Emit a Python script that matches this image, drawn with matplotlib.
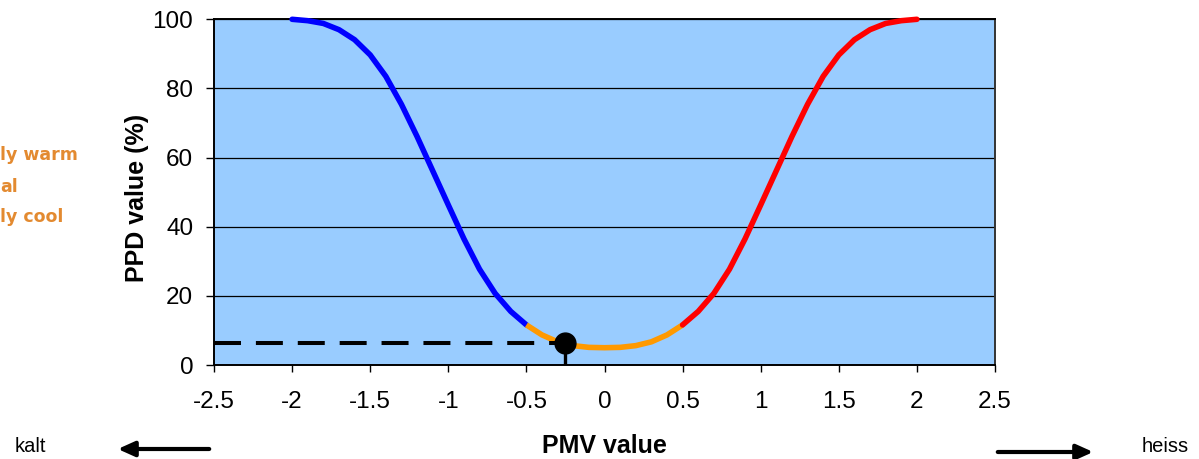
import numpy as np
import matplotlib
matplotlib.use("Agg")
import matplotlib.pyplot as plt

plt.rcParams['font.family'] = ['Liberation Sans', 'DejaVu Sans']

# ---- data ----
pmv = [-2.0, -1.9, -1.8, -1.7, -1.6, -1.5, -1.4, -1.3, -1.2, -1.1, -1.0,
       -0.9, -0.8, -0.7, -0.6, -0.5, -0.4, -0.3, -0.2, -0.1, 0.0,
       0.1, 0.2, 0.3, 0.4, 0.5, 0.6, 0.7, 0.8, 0.9, 1.0,
       1.1, 1.2, 1.3, 1.4, 1.5, 1.6, 1.7, 1.8, 1.9, 2.0]
ppd = [100.0, 99.6, 98.8, 97.0, 94.1, 89.7, 83.5, 75.4, 66.1, 56.2, 46.3,
       36.5, 27.7, 20.7, 15.5, 11.6, 8.7, 6.7, 5.6, 5.1, 5.0,
       5.1, 5.6, 6.7, 8.7, 11.6, 15.5, 20.7, 27.7, 36.5, 46.3,
       56.2, 66.1, 75.4, 83.5, 89.7, 94.1, 97.0, 98.8, 99.6, 100.0]
marker_pmv = -0.25
marker_ppd = 6.3
cool_limit = -0.5
warm_limit = 0.5
x_ticks = [-2.5, -2, -1.5, -1, -0.5, 0, 0.5, 1, 1.5, 2, 2.5]
x_tick_labels = ["-2.5", "-2", "-1.5", "-1", "-0.5", "0", "0.5", "1", "1.5", "2", "2.5"]
y_ticks = [0, 20, 40, 60, 80, 100]
side_texts = ["ly warm", "al", "ly cool"]

W, H = 1199, 459
fig = plt.figure(figsize=(W / 100, H / 100), dpi=100)
L, R, T, B = 214, 995, 19.3, 365
ax = fig.add_axes([L / W, 1 - B / H, (R - L) / W, (B - T) / H])
ax.set_facecolor('#99CCFF')
ax.set_xlim(-2.5, 2.5)
ax.set_ylim(0, 100)

ax.set_yticks(y_ticks)
ax.set_xticks(x_ticks)
ax.set_xticklabels(x_tick_labels)
ax.tick_params(axis='both', direction='out', labelsize=17.5, color='black', width=1.0)
ax.tick_params(axis='y', length=6, pad=9)
ax.tick_params(axis='x', length=5, pad=14)
ax.yaxis.grid(True, color='black', lw=0.9)
ax.set_axisbelow(True)
for s in ax.spines.values():
    s.set_linewidth(1.4)
    s.set_color('black')
ax.spines['right'].set_color('#333333')

x = np.array(pmv)
y = np.array(ppd)
lw = 4.0
m_cool = x <= cool_limit
m_mid = (x >= cool_limit) & (x <= warm_limit)
m_warm = x >= warm_limit
ax.plot(x[m_cool], y[m_cool], color='#0000FF', lw=lw, solid_capstyle='round',
        solid_joinstyle='round', clip_on=False, zorder=3)
ax.plot(x[m_mid], y[m_mid], color='#FF9900', lw=lw, solid_capstyle='butt',
        solid_joinstyle='round', clip_on=False, zorder=3)
ax.plot(x[m_warm], y[m_warm], color='#FF0000', lw=lw, solid_capstyle='round',
        solid_joinstyle='round', clip_on=False, zorder=3)

# marker with guide lines
ax.plot([-2.5, marker_pmv], [marker_ppd, marker_ppd], color='black', lw=2.9,
        linestyle=(0, (6.7, 3.7)), zorder=4, clip_on=False)
ax.plot([marker_pmv, marker_pmv], [0, marker_ppd], color='black', lw=2.4, zorder=4)
ax.plot([marker_pmv], [marker_ppd], 'o', color='black', markersize=15, zorder=5, clip_on=False)

# labels
fig.text(604 / W, 1 - 446 / H, "PMV value", ha='center', va='center',
         fontsize=18, fontweight='bold')
fig.text(137 / W, 1 - 198 / H, "PPD value (%)", ha='center', va='center',
         rotation=90, fontsize=18, fontweight='bold')
fig.text(15 / W, 1 - 447 / H, "kalt", ha='left', va='center', fontsize=14.5)
fig.text(1189 / W, 1 - 447 / H, "heiss", ha='right', va='center', fontsize=14.5)

# arrows
fig.add_artist(matplotlib.patches.FancyArrowPatch(
    (212 / W, 1 - 449 / H), (115 / W, 1 - 449 / H), transform=fig.transFigure,
    arrowstyle='-|>,head_length=10,head_width=4.5', mutation_scale=1,
    lw=3, color='black'))
fig.add_artist(matplotlib.patches.FancyArrowPatch(
    (995 / W, 1 - 452 / H), (1096 / W, 1 - 452 / H), transform=fig.transFigure,
    arrowstyle='-|>,head_length=10,head_width=4.5', mutation_scale=1,
    lw=3, color='black'))

# clipped orange fragments on the left
for txt, yy in zip(side_texts, [155, 187, 217]):
    fig.text(0, 1 - yy / H, txt, ha='left', va='center', fontsize=12.5,
             fontweight='bold', color='#E38A30', family='DejaVu Sans')

fig.savefig('out.png', dpi=100)
